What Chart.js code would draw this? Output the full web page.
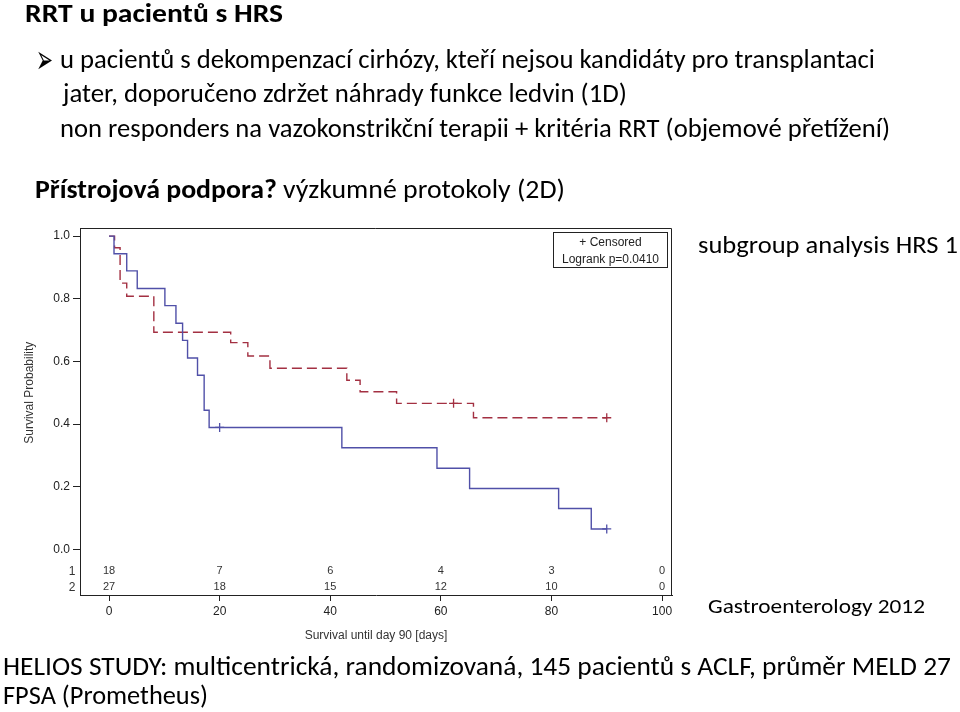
<!DOCTYPE html>
<html>
<head>
<meta charset="utf-8">
<script src="https://cdn.jsdelivr.net/npm/chart.js@4"></script>
<style>
  body { margin: 0; background: #fff; }
  #wrap { position: relative; width: 960px; height: 712px; overflow: hidden; }
  #wrap canvas { position: absolute; left: 0; top: 0; }
  .t { position: absolute; white-space: nowrap; color: #000; transform-origin: 0 0;
       font-family: Carlito, Calibri, "Liberation Sans Narrow", Roboto, sans-serif; line-height: 1; }
  .b { font-weight: bold; }
</style>
</head>
<body>
<div id="wrap">
  <canvas id="kmChart" width="960" height="712"></canvas>
  <div class="t b" data-w="258" style="left:25px; top:-1px; font-size:27px;">RRT u pacientů s HRS</div>
  <div class="t" data-w="17" style="left:36px; top:39px; font-size:40px; font-family:'DejaVu Sans';">&#10146;</div>
  <div class="t" data-w="815" style="left:60px; top:45px; font-size:27px;">u pacientů s dekompenzací cirhózy, kteří nejsou kandidáty pro transplantaci</div>
  <div class="t" data-w="564" style="left:63px; top:79px; font-size:27px;">jater, doporučeno zdržet náhrady funkce ledvin (1D)</div>
  <div class="t" data-w="830" style="left:60px; top:113.5px; font-size:27px;">non responders na vazokonstrikční terapii + kritéria RRT (objemové přetížení)</div>
  <div class="t" data-w="530" style="left:35px; top:174.5px; font-size:27px;"><span class="b">Přístrojová podpora?</span> výzkumné protokoly (2D)</div>
  <div class="t" data-w="260" style="left:698px; top:232px; font-size:25px;">subgroup analysis HRS 1</div>
  <div class="t" data-w="217" style="left:708px; top:595.5px; font-size:21px;">Gastroenterology 2012</div>
  <div class="t" data-w="948" style="left:2.5px; top:652.5px; font-size:26px;">HELIOS STUDY: multicentrická, randomizovaná, 145 pacientů s ACLF, průměr MELD 27</div>
  <div class="t" data-w="205" style="left:2.5px; top:682px; font-size:26px;">FPSA (Prometheus)</div>
</div>
<script>
// skupina 1 (plna cara)
const group1Days = [0, 0.9, 3.2, 5.1, 10.1, 12.1, 13.3, 14.2, 16, 17.2, 18.1, 42.1, 59.3, 65.2, 81.3, 87.2, 90];
const group1Surv = [1, 0.944, 0.889, 0.833, 0.778, 0.722, 0.667, 0.611, 0.556, 0.444, 0.389, 0.324, 0.259, 0.194, 0.13, 0.065, 0.065];
// skupina 2 (prerusovana cara)
const group2Days = [0, 1.0, 2.0, 3.2, 8.1, 22, 25.1, 29.1, 43, 45.4, 52, 65.9, 90];
const group2Surv = [1, 0.963, 0.85, 0.808, 0.693, 0.66, 0.617, 0.578, 0.54, 0.503, 0.466, 0.42, 0.42];
// cenzurovana pozorovani
const censor1Days = [20, 90];
const censor1Surv = [0.389, 0.065];
const censor2Days = [62.3, 90];
const censor2Surv = [0.466, 0.42];
// pocty v riziku
const atRiskDays = [0, 20, 40, 60, 80, 100];
const atRisk1 = [18, 7, 6, 4, 3, 0];
const atRisk2 = [27, 18, 15, 12, 10, 0];
const xTicks = [0, 20, 40, 60, 80, 100];
const yTicks = [0, 0.2, 0.4, 0.6, 0.8, 1.0];

const blue = '#5050a8';
const red = '#a33042';
const axisFont = { family: '"Liberation Sans", Arial, sans-serif', size: 12 };

function toPoints(xs, ys) {
  return xs.map((x, i) => ({ x: x, y: ys[i] }));
}

// texty slidu roztahnout na sirku jako v predloze
function fitTexts() {
  document.querySelectorAll('.t[data-w]').forEach(el => {
    el.style.transform = 'none';
    const w = el.getBoundingClientRect().width;
    if (w > 0) el.style.transform = 'scaleX(' + (Number(el.dataset.w) / w) + ')';
  });
}
fitTexts();
if (document.fonts) document.fonts.ready.then(fitTexts);

// ramecek, popisky a tabulka v riziku
const extras = {
  id: 'extras',
  afterDraw(chart) {
    const { ctx, chartArea: a, scales } = chart;
    const xs = scales.x, ys = scales.y;
    ctx.save();
    ctx.strokeStyle = '#222';
    ctx.lineWidth = 1;
    ctx.beginPath();
    ctx.moveTo(a.left, a.top + 0.5);
    ctx.lineTo(a.right - 0.5, a.top + 0.5);
    ctx.lineTo(a.right - 0.5, a.bottom);
    ctx.stroke();

    // y title
    ctx.fillStyle = '#333';
    ctx.font = '12px "Liberation Sans", Arial, sans-serif';
    ctx.textAlign = 'center';
    ctx.textBaseline = 'middle';
    ctx.translate(30, ys.getPixelForValue(0.5));
    ctx.rotate(-Math.PI / 2);
    ctx.fillText('Survival Probability', 0, 0);
    ctx.setTransform(1, 0, 0, 1, 0, 0);

    // at risk
    const y0 = ys.getPixelForValue(0);
    ctx.font = '11px "Liberation Sans", Arial, sans-serif';
    atRiskDays.forEach((d, i) => {
      const px = xs.getPixelForValue(d);
      ctx.fillText(String(atRisk1[i]), px, y0 + 22);
      ctx.fillText(String(atRisk2[i]), px, y0 + 38);
    });
    ctx.font = '12px "Liberation Sans", Arial, sans-serif';
    ctx.fillText('1', 72, y0 + 22);
    ctx.fillText('2', 72, y0 + 38);

    // legenda
    const bw = 114, bh = 35;
    const bx = a.right - bw - 4.5, by = a.top + 4.5;
    ctx.fillStyle = '#fff';
    ctx.fillRect(bx, by, bw, bh);
    ctx.strokeStyle = '#222';
    ctx.strokeRect(bx, by, bw, bh);
    ctx.fillStyle = '#222';
    ctx.font = '12px "Liberation Sans", Arial, sans-serif';
    ctx.fillText('+ Censored', bx + bw / 2, by + 10);
    ctx.fillText('Logrank p=0.0410', bx + bw / 2, by + 27);
    ctx.restore();
  }
};

new Chart(document.getElementById('kmChart'), {
  type: 'line',
  data: {
    datasets: [{
      label: '1',
      data: toPoints(group1Days, group1Surv),
      borderColor: blue,
      borderWidth: 1.4,
      stepped: 'before',
      pointRadius: 0,
      fill: false
    }, {
      label: '2',
      data: toPoints(group2Days, group2Surv),
      borderColor: red,
      borderWidth: 1.4,
      borderDash: [10, 5],
      stepped: 'before',
      pointRadius: 0,
      fill: false
    }, {
      label: 'censor 1',
      data: toPoints(censor1Days, censor1Surv),
      showLine: false,
      pointStyle: 'cross',
      pointRadius: 4.5,
      pointBorderWidth: 1.3,
      borderColor: blue
    }, {
      label: 'censor 2',
      data: toPoints(censor2Days, censor2Surv),
      showLine: false,
      pointStyle: 'cross',
      pointRadius: 4.5,
      pointBorderWidth: 1.3,
      borderColor: red
    }]
  },
  options: {
    responsive: false,
    animation: false,
    devicePixelRatio: 1,
    layout: { padding: { left: 0, top: 228, right: 288, bottom: 62 } },
    plugins: { legend: { display: false }, tooltip: { enabled: false } },
    scales: {
      x: {
        type: 'linear',
        min: -5.25,
        max: 101.8,
        afterBuildTicks(scale) { scale.ticks = xTicks.map(v => ({ value: v })); },
        afterFit(scale) { scale.height = 55; },
        grid: { drawOnChartArea: false, tickLength: 6, color: '#222' },
        border: { color: '#222' },
        ticks: { font: axisFont, color: '#222', padding: 3, maxRotation: 0 },
        title: { display: true, text: 'Survival until day 90 [days]', font: axisFont, color: '#333', padding: { top: 0, bottom: 7 } }
      },
      y: {
        type: 'linear',
        min: -0.146,
        max: 1.026,
        afterBuildTicks(scale) { scale.ticks = yTicks.map(v => ({ value: v })); },
        afterFit(scale) { scale.width = 80; },
        grid: { drawOnChartArea: false, tickLength: 7, color: '#222' },
        border: { color: '#222' },
        ticks: { font: axisFont, color: '#222', padding: 3, callback: v => v.toFixed(1) }
      }
    }
  },
  plugins: [extras]
});
</script>
</body>
</html>
